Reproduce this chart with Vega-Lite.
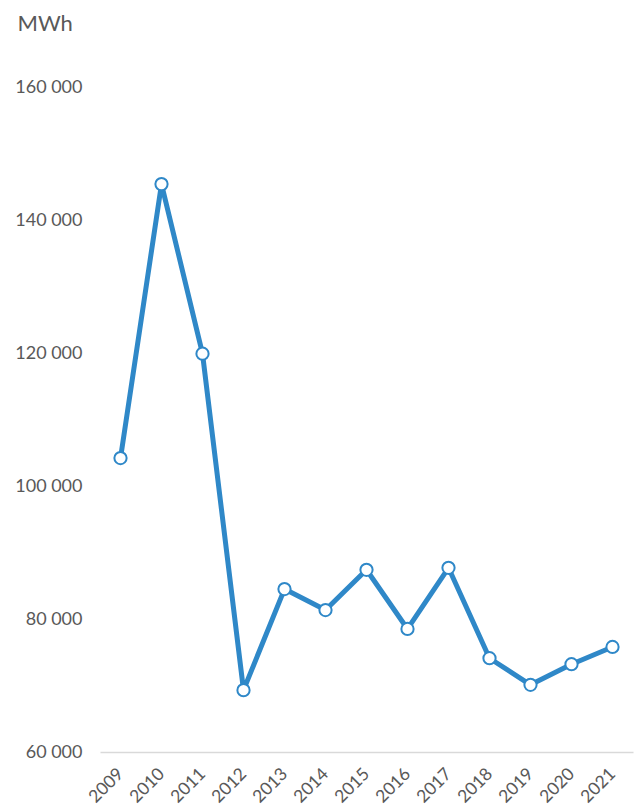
{
  "$schema": "https://vega.github.io/schema/vega-lite/v6.json",
  "width": 533,
  "height": 665,
  "autosize": "none",
  "padding": {"left": 100, "top": 87, "right": 2, "bottom": 58},
  "background": "white",
  "data": {
    "values": [
      {"year": "2009", "mwh": 104200},
      {"year": "2010", "mwh": 145400},
      {"year": "2011", "mwh": 119900},
      {"year": "2012", "mwh": 69300},
      {"year": "2013", "mwh": 84500},
      {"year": "2014", "mwh": 81350},
      {"year": "2015", "mwh": 87400},
      {"year": "2016", "mwh": 78500},
      {"year": "2017", "mwh": 87700},
      {"year": "2018", "mwh": 74100},
      {"year": "2019", "mwh": 70100},
      {"year": "2020", "mwh": 73200},
      {"year": "2021", "mwh": 75800}
    ]
  },
  "encoding": {
    "x": {
      "field": "year",
      "type": "ordinal",
      "scale": {"type": "point", "padding": 0.5},
      "axis": {
        "title": null,
        "labelAngle": -45,
        "labelAlign": "right",
        "labelBaseline": "middle",
        "labelPadding": 19,
        "ticks": false,
        "domain": true,
        "domainColor": "#d9d9d9",
        "domainWidth": 1.5,
        "labelFont": "Lato",
        "labelFontSize": 17.5,
        "labelColor": "#595959"
      }
    },
    "y": {
      "field": "mwh",
      "type": "quantitative",
      "scale": {"domain": [60000, 160000], "nice": false, "zero": false},
      "axis": {
        "values": [60000, 80000, 100000, 120000, 140000, 160000],
        "labelExpr": "replace(format(datum.value, ',d'), ',', ' ')",
        "grid": false,
        "domain": false,
        "ticks": false,
        "labelPadding": 18,
        "labelFont": "Lato",
        "labelFontSize": 18,
        "labelColor": "#595959",
        "title": "MWh",
        "titleAngle": 0,
        "titleAlign": "left",
        "titleBaseline": "alphabetic",
        "titleX": -83,
        "titleY": -57,
        "titleFont": "Lato",
        "titleFontSize": 22,
        "titleFontWeight": "normal",
        "titleColor": "#595959"
      }
    }
  },
  "layer": [
    {"mark": {"type": "line", "color": "#2F88C8", "strokeWidth": 5, "strokeJoin": "round"}},
    {"mark": {"type": "point", "shape": "circle", "filled": true, "fill": "white", "stroke": "#2F88C8", "strokeWidth": 2, "size": 150, "opacity": 1}}
  ],
  "config": {"view": {"stroke": null}}
}
